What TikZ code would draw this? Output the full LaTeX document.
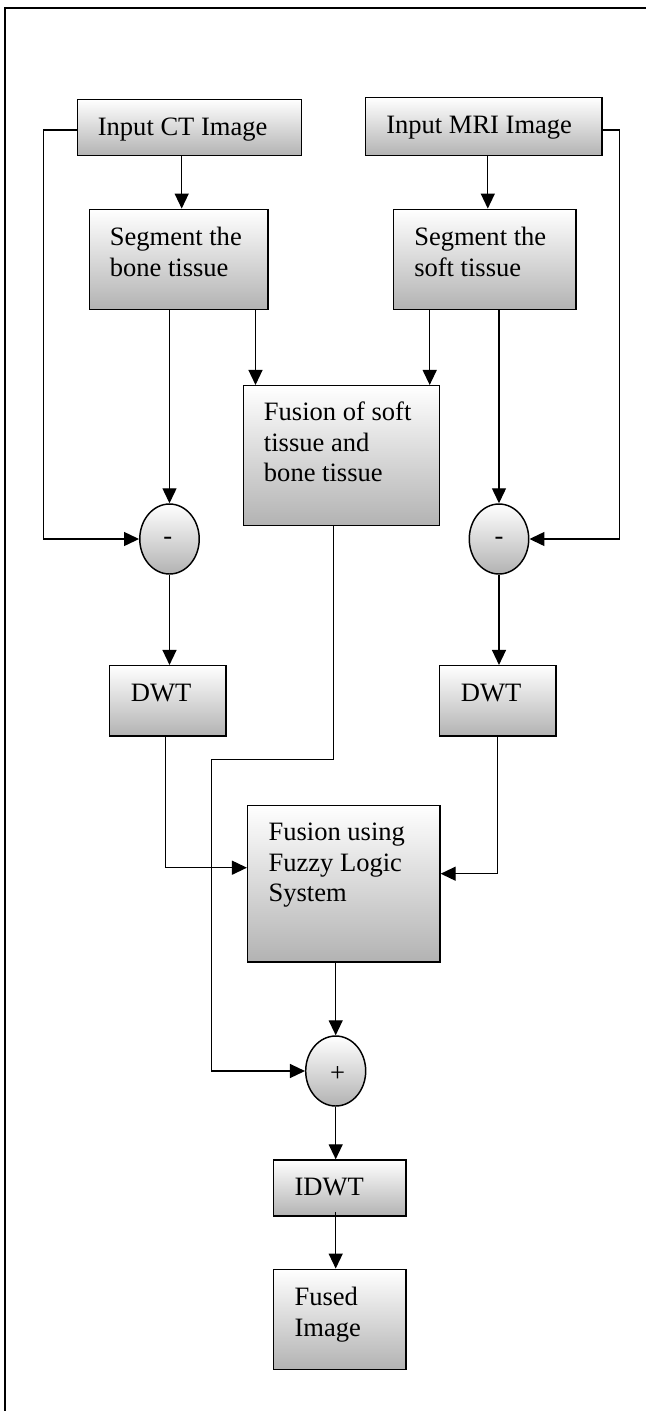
\documentclass[tikz,border=0pt]{standalone}
\usepackage{fontspec}
\setmainfont{Liberation Serif}
\usetikzlibrary{shapes.geometric,arrows.meta,calc}
\begin{document}
\begin{tikzpicture}[x=0.75pt,y=-0.75pt,
  box/.style={draw=black,line width=1.1pt,top color=white,bottom color=black!30,inner sep=0pt,rectangle},
  oval/.style={draw=black,line width=1.1pt,top color=white,bottom color=black!30,inner sep=0pt,ellipse,minimum width=44.6pt,minimum height=52.5pt},
  txt/.style={inner sep=0pt,anchor=base west,font=\fontsize{19.9pt}{23pt}\selectfont},
  sym/.style={inner sep=0pt,font=\fontsize{19.9pt}{23pt}\selectfont},
  arr/.style={line width=1pt,-{Triangle[length=11.25pt,width=10.5pt]}}]
\useasboundingbox (0,0) rectangle (646,1411);
\fill[white] (0,0) rectangle (646,1411);
% frame
\draw[line width=1.5pt] (5,1411) -- (5,8) -- (646,8);
% boxes
\node[box,minimum width=168pt,minimum height=42.3pt] (ct) at (189.5,127.5) {};
\node[box,minimum width=177.4pt,minimum height=43.5pt] (mri) at (483.8,126.7) {};
\node[box,minimum width=133.8pt,minimum height=75.3pt] (segb) at (178.6,259.5) {};
\node[box,minimum width=136.9pt,minimum height=75.3pt] (segs) at (484.8,259.5) {};
\node[box,minimum width=147pt,minimum height=105pt] (fus1) at (341.5,455.7) {};
\node[oval] (m1) at (169.5,539) {};
\node[oval] (m2) at (499,539) {};
\node[box,minimum width=87.5pt,minimum height=52.7pt] (dwt1) at (167.7,700.8) {};
\node[box,minimum width=87.5pt,minimum height=52.7pt] (dwt2) at (497.7,700.8) {};
\node[box,minimum width=144.2pt,minimum height=117.5pt] (fuzzy) at (343.8,883.7) {};
\node[oval,minimum width=45pt] (plus) at (335.7,1071) {};
\node[box,minimum width=99.5pt,minimum height=42pt] (idwt) at (339.7,1188) {};
\node[box,minimum width=99.5pt,minimum height=75pt] (fused) at (339.7,1319.3) {};
% texts
\node[txt] (t1) at (97.6,135) {Input CT Image};
\node[txt] (t2) at (386,133.3) {Input MRI Image};
\node[txt] (t3a) at (109.6,245) {Segment the};
\node[txt] (t3b) at (109.6,276) {bone tissue};
\node[txt] (t4a) at (414,245) {Segment the};
\node[txt] (t4b) at (414,276) {soft tissue};
\node[txt] (t5a) at (263.7,420.7) {Fusion of soft};
\node[txt] (t5b) at (263.7,451.7) {tissue and};
\node[txt] (t5c) at (263.7,481.7) {bone tissue};
\node[sym] (s1) at (167.7,541) {-};
\node[sym] (s2) at (499,541) {-};
\node[txt] (t6) at (130.7,701.7) {DWT};
\node[txt] (t7) at (460.7,701.7) {DWT};
\node[txt] (t8a) at (268.3,840.7) {Fusion using};
\node[txt] (t8b) at (268.3,871.7) {Fuzzy Logic};
\node[txt] (t8c) at (268.3,901.7) {System};
\node[sym] (s3) at (337.7,1074) {+};
\node[txt] (t9) at (294.3,1195) {IDWT};
\node[txt] (t10a) at (294.3,1305) {Fused};
\node[txt] (t10b) at (294.3,1336) {Image};
% helper coordinates
\coordinate (xa) at (181.7,0);
\coordinate (xb) at (487.8,0);
\coordinate (yfb) at (0,130);
\coordinate (xl) at (43.3,0);
\coordinate (xr) at (619.3,0);
\coordinate (xc) at (255.5,0);
\coordinate (xd) at (429.7,0);
\coordinate (ya) at (0,867.7);
\coordinate (xe) at (165.7,0);
\coordinate (yb) at (0,873.7);
\coordinate (yc) at (0,759.3);
\coordinate (xf) at (211.7,0);
\coordinate (xg) at (333.3,0);
% connectors
\draw[arr] (ct.south -| xa) -- (segb.north -| xa);
\draw[arr] (mri.south -| xb) -- (segs.north -| xb);
\draw[arr] (ct.west |- yfb) -- (xl |- yfb) -- (xl |- m1.west) -- (m1.west);
\draw[arr] (mri.east |- yfb) -- (xr |- yfb) -- (xr |- m2.east) -- (m2.east);
\draw[arr] (segb.south -| m1.north) -- (m1.north);
\draw[arr] (segb.south -| xc) -- (fus1.north -| xc);
\draw[arr] (segs.south -| xd) -- (fus1.north -| xd);
\draw[arr] (segs.south -| m2.north) -- (m2.north);
\draw[arr] (m1.south) -- (dwt1.north -| m1.south);
\draw[arr] (m2.south) -- (dwt2.north -| m2.south);
\draw[arr] (dwt1.south -| xe) -- (xe |- ya) -- (fuzzy.west |- ya);
\draw[arr] (dwt2.south) -- (dwt2.south |- yb) -- (fuzzy.east |- yb);
\draw[arr] (fus1.south -| xg) -- (xg |- yc) -- (xf |- yc) -- (xf |- plus.west) -- (plus.west);
\draw[arr] (fuzzy.south -| plus.north) -- (plus.north);
\draw[arr] (plus.south) -- (idwt.north -| plus.south);
\draw[arr] ($(idwt.south -| plus.south)+(0,-4.3)$) -- (fused.north -| plus.south);
\end{tikzpicture}
\end{document}
